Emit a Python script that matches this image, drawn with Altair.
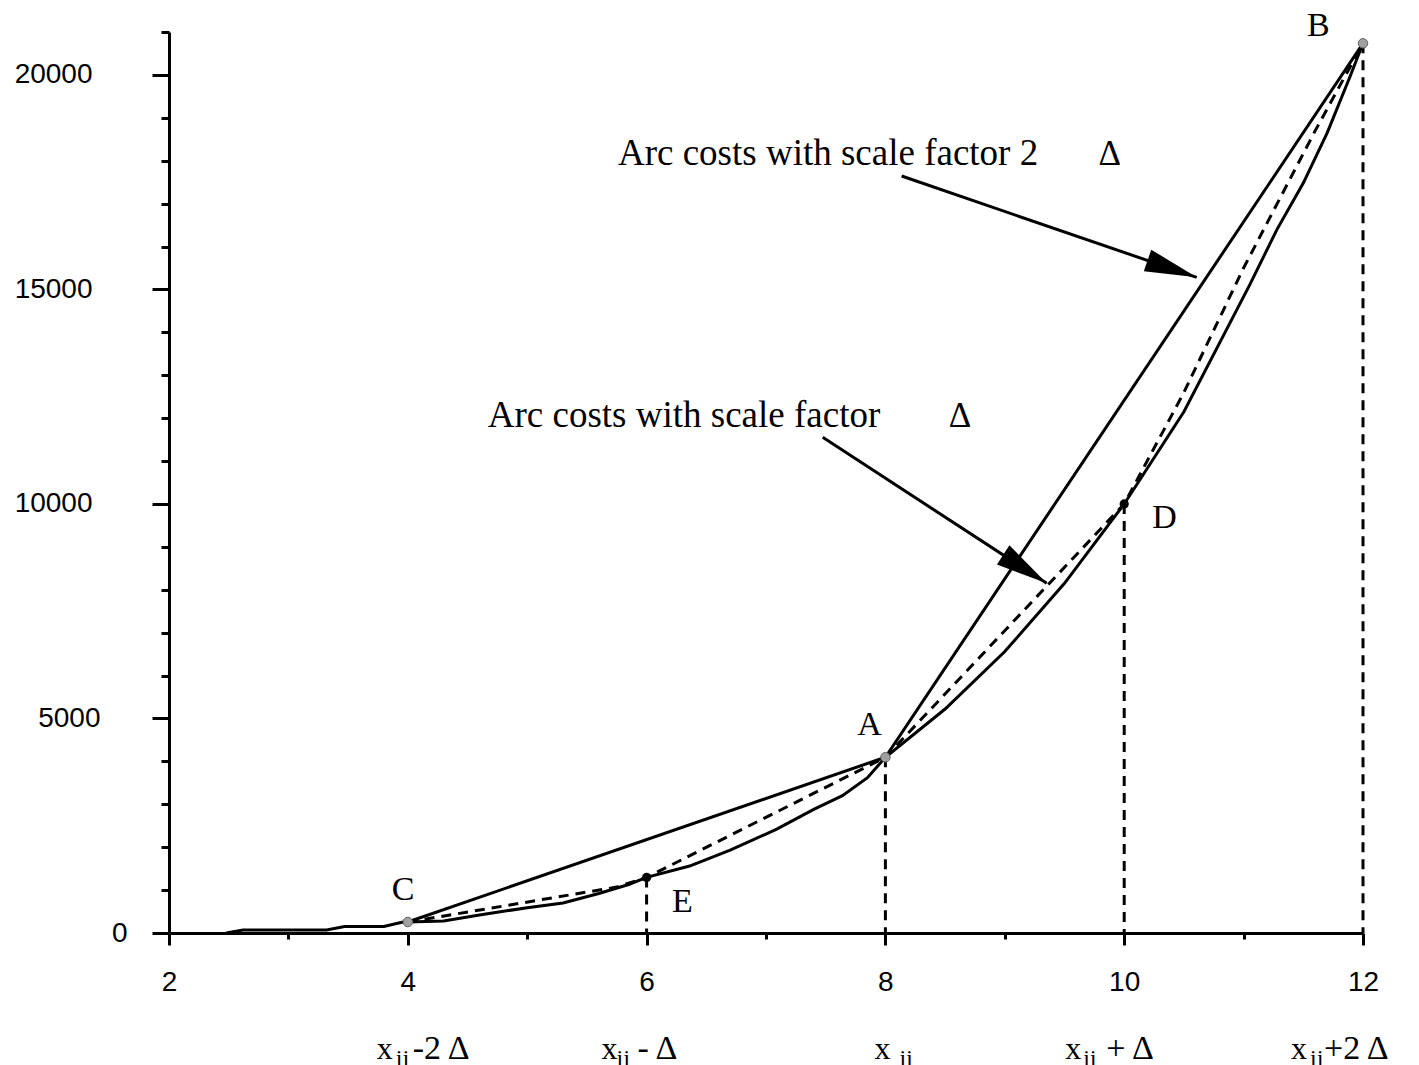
import altair as alt
import pandas as pd

# ---- data ----
# solid cost curve
curve_x = [2.48, 2.62, 3.32, 3.47, 3.80, 3.95, 4.00, 4.30, 4.60, 5.00, 5.30, 5.60, 5.85, 6.00,
           6.36, 6.70, 7.09, 7.40, 7.64, 7.85, 8.00, 8.50, 9.00, 9.50, 10.00, 10.50, 11.05,
           11.28, 11.50, 11.70, 11.89, 12.00]
curve_y = [0, 70, 70, 150, 150, 250, 256, 280, 420, 590, 700, 920, 1130, 1296,
           1560, 1930, 2420, 2880, 3200, 3620, 4096, 5220, 6560, 8150, 10000, 12150, 15100,
           16400, 17480, 18650, 19950, 20736]
# arc costs with scale factor 2*Delta (chords C-A-B)
chord_x = [4, 8, 12]
chord_y = [256, 4096, 20736]
# arc costs with scale factor Delta (dashed polyline C-E-A-D-B)
dash_x = [4, 5.75, 6, 8, 10, 10.5, 11, 11.3, 11.6, 12]
dash_y = [256, 1070, 1296, 4096, 10000, 12600, 15500, 17100, 18700, 20736]
# vertical dashed drops
drop_x = [6, 8, 10, 12]
drop_y = [1296, 4096, 10000, 20736]
# marked points
gray_x = [4, 8, 12]
gray_y = [256, 4096, 20736]
black_x = [6, 10]
black_y = [1296, 10000]
# point letters
letter_text = ["A", "B", "C", "D", "E"]
letter_x = [7.867, 11.627, 3.96, 10.337, 6.30]
letter_y = [4615, 20900, 769, 9439, 489]
# annotations
note_text = ["Arc costs with scale factor 2", "Arc costs with scale factor"]
note_x = [5.76, 4.67]
note_y = [17900, 11793]
delta_x = [9.88, 8.625]
delta_y = [17900, 11793]
arrow_x = [8.136, 7.475]
arrow_y = [17643, 11553]
arrow_x2 = [10.607, 9.351]
arrow_y2 = [15282, 8150]
arrow_angle = [18.95, 33.1]
# second row of x labels
row_ticks = [4, 6, 8, 10, 12]
row_tails = ["-2  Δ", "-  Δ", "", "+ Δ", "+2  Δ"]
# y and x tick values
y_ticks = list(range(0, 21001, 1000))
x_ticks = list(range(2, 13))

SERIF = "Liberation Serif"
SANS = "Liberation Sans"

xs = alt.Scale(domain=[2, 12], nice=False, zero=False)
ys = alt.Scale(domain=[0, 21000], nice=False, zero=False)

xaxis = alt.Axis(
    values=x_ticks, format="d", title=None, grid=False,
    labelExpr="datum.value % 2 === 0 ? datum.label : ''",
    tickSize={"condition": {"test": "datum.value % 2 === 0", "value": 12}, "value": 6},
    labelPadding=23, labelFlush=False, labelOverlap=False, labelBound=False,
    labelFont=SANS, labelFontSize=28, labelColor="black",
    domainColor="black", domainWidth=3, tickColor="black", tickWidth=3,
)
yaxis = alt.Axis(
    values=y_ticks, format="d", title=None, grid=False,
    labelExpr="datum.value % 5000 === 0 ? datum.label : ''",
    tickSize={"condition": {"test": "datum.value % 5000 === 0", "value": 17}, "value": 8},
    labelPadding={"condition": [{"test": "datum.value === 0", "value": 25},
                                {"test": "datum.value === 5000", "value": 52}], "value": 60},
    labelFlush=False, labelOverlap=False, labelBound=False,
    labelFont=SANS, labelFontSize=28, labelColor="black", labelAlign="right",
    domainColor="black", domainWidth=3, tickColor="black", tickWidth=3,
)

X = alt.X("x:Q", scale=xs, axis=xaxis)
Y = alt.Y("y:Q", scale=ys, axis=yaxis)

def frame(xv, yv, **extra):
    d = {"x": xv, "y": yv}
    d.update(extra)
    return pd.DataFrame(d)

curve = alt.Chart(frame(curve_x, curve_y)).mark_line(color="black", strokeWidth=3).encode(x=X, y=Y)
chord = alt.Chart(frame(chord_x, chord_y)).mark_line(color="black", strokeWidth=3).encode(x=X, y=Y)
dashed = alt.Chart(frame(dash_x, dash_y)).mark_line(
    color="black", strokeWidth=3, strokeDash=[10, 7]).encode(x=X, y=Y)
drops = alt.Chart(frame(drop_x, drop_y, y0=[0] * len(drop_x))).mark_rule(
    color="black", strokeWidth=3, strokeDash=[10, 7]).encode(x=X, y=Y, y2="y0:Q")

arrows = alt.Chart(frame(arrow_x, arrow_y, x2=arrow_x2, y2=arrow_y2)).mark_rule(
    color="black", strokeWidth=3).encode(x=X, y=Y, x2="x2:Q", y2="y2:Q")
heads = []
for i in range(len(arrow_x2)):
    heads.append(
        alt.Chart(frame([arrow_x2[i]], [arrow_y2[i]])).mark_point(
            shape="M0,0L-2,-0.44L-2,0.44Z", filled=True, fill="black", color="black",
            opacity=1, size=2700, angle=arrow_angle[i], strokeWidth=0
        ).encode(x=X, y=Y)
    )

gray_pts = alt.Chart(frame(gray_x, gray_y)).mark_point(
    shape="circle", filled=True, fill="#a0a0a0", stroke="#606060", strokeWidth=1,
    opacity=1, size=90).encode(x=X, y=Y)
black_pts = alt.Chart(frame(black_x, black_y)).mark_circle(
    color="black", opacity=1, size=85).encode(x=X, y=Y)

letters = alt.Chart(frame(letter_x, letter_y, t=letter_text)).mark_text(
    font=SERIF, fontSize=34, align="center", baseline="alphabetic", color="black"
).encode(x=X, y=Y, text="t:N")

notes = alt.Chart(frame(note_x, note_y, t=note_text)).mark_text(
    font=SERIF, fontSize=37, align="left", baseline="alphabetic", color="black"
).encode(x=X, y=Y, text="t:N")
deltas = alt.Chart(frame(delta_x, delta_y, t=["Δ", "Δ"])).mark_text(
    font=SERIF, fontSize=35, align="center", baseline="alphabetic", color="black"
).encode(x=X, y=Y, text="t:N")

# second row of x labels: "x", subscript "ij", and the tail
x_dx = [-31, -45, -11, -59, -72]
sub_dx = [-12, -30, 14, -41, -53]
tail_dx = [5, -9, 0, -18, -39]
row_layers = []
for i, tv in enumerate(row_ticks):
    base = alt.Chart(frame([tv], [0], main=["x"], sub=["ij"], tail=[row_tails[i]]))
    row_layers.append(base.mark_text(font=SERIF, fontSize=32, align="left", baseline="alphabetic",
                                     dx=x_dx[i], color="black")
                      .encode(x=X, y=alt.value(1027), text="main:N"))
    row_layers.append(base.mark_text(font=SERIF, fontSize=24, align="left", baseline="alphabetic",
                                     dx=sub_dx[i], color="black")
                      .encode(x=X, y=alt.value(1034), text="sub:N"))
    if row_tails[i]:
        row_layers.append(base.mark_text(font=SERIF, fontSize=34, align="left",
                                         baseline="alphabetic", dx=tail_dx[i], color="black")
                          .encode(x=X, y=alt.value(1027), text="tail:N"))

chart = alt.layer(
    curve, chord, dashed, drops, arrows, *heads, gray_pts, black_pts,
    letters, notes, deltas, *row_layers
).properties(
    width=1194, height=901,
    autosize=alt.AutoSizeParams(type="none"),
    padding={"left": 161, "top": 24, "right": 48, "bottom": 150},
    background="white",
).configure_view(stroke=None)

chart.save("out.html", embed_options={"renderer": "svg", "actions": False})
